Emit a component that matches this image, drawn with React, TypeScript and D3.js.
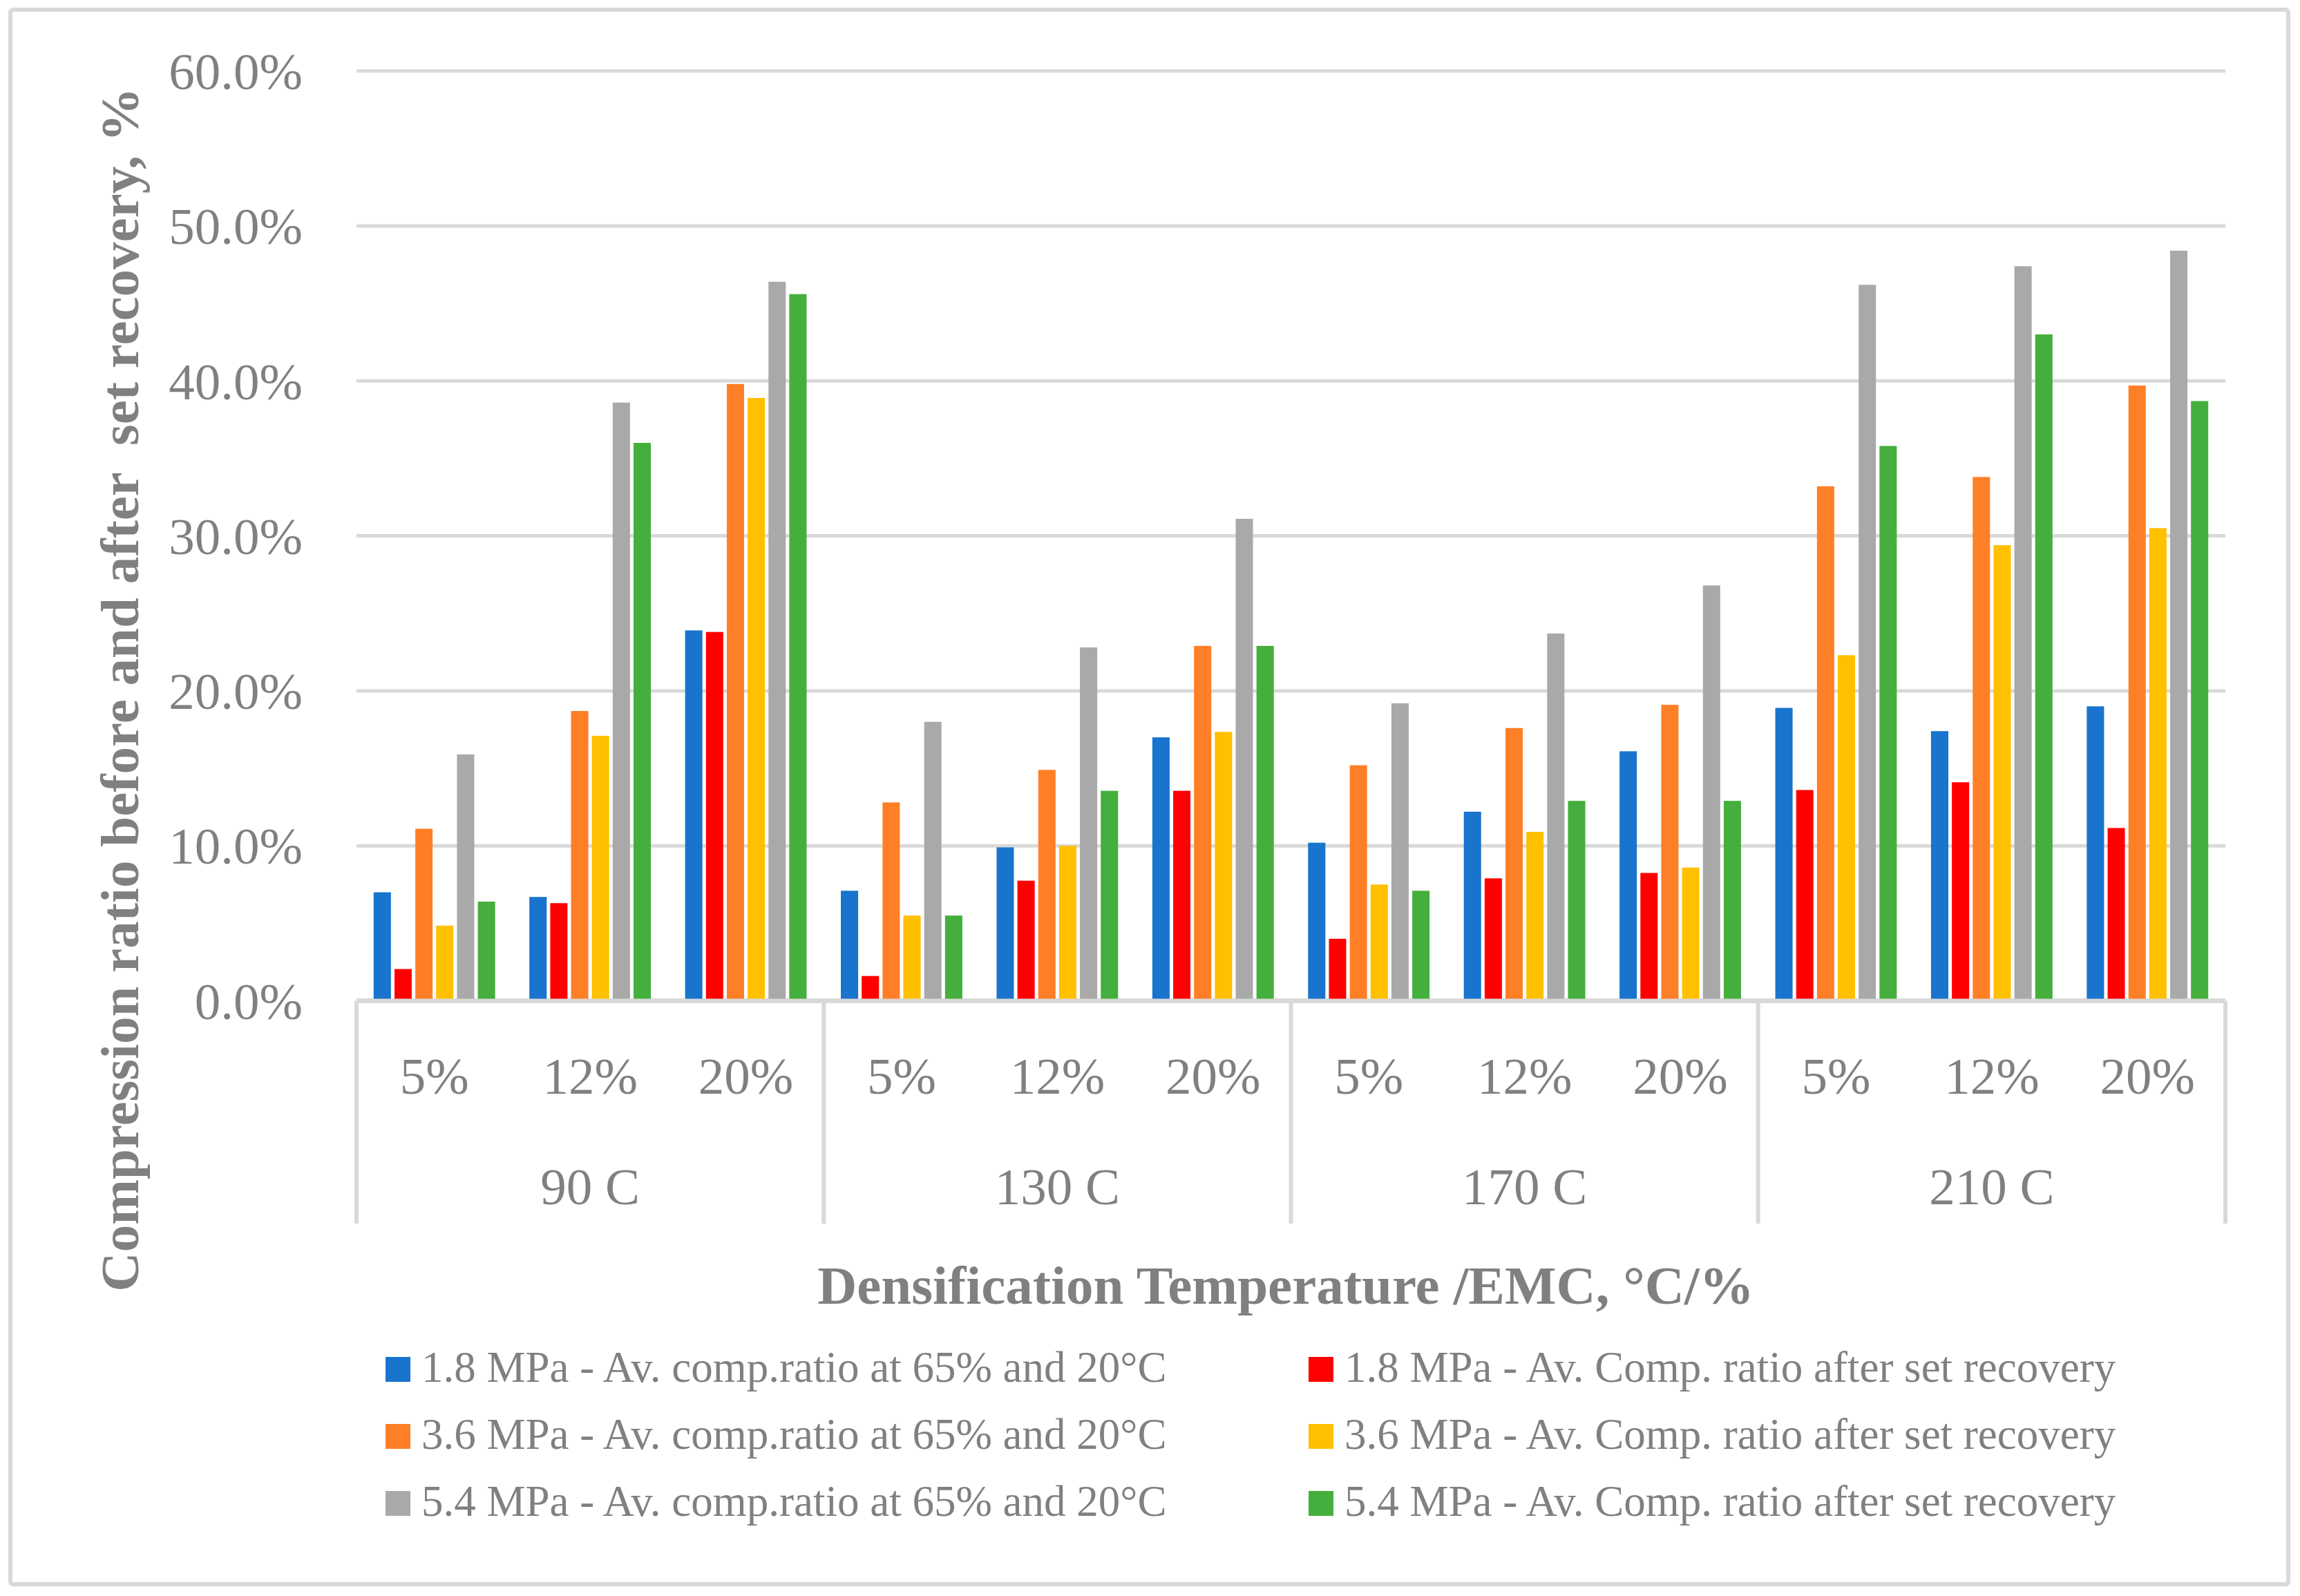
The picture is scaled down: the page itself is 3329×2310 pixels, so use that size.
import React, { useEffect } from 'react';
import * as d3 from 'd3';

// temperatures (outer axis level) and EMC levels (inner axis level)
const temperatures = ['90 C', '130 C', '170 C', '210 C'];
const emcLevels = ['5%', '12%', '20%'];

const seriesNames = [
  '1.8 MPa - Av. comp.ratio at 65% and 20°C',
  '1.8 MPa - Av. Comp. ratio after set recovery',
  '3.6 MPa - Av. comp.ratio at 65% and 20°C',
  '3.6 MPa - Av. Comp. ratio after set recovery',
  '5.4 MPa - Av. comp.ratio at 65% and 20°C',
  '5.4 MPa - Av. Comp. ratio after set recovery',
];
const seriesColors = ['#1874CD', '#FF0000', '#FF7F27', '#FFC000', '#A9A9A9', '#44AF3C'];

// values in %, ordered 90C(5,12,20), 130C(...), 170C(...), 210C(...)
const comp18 = [7.0, 6.7, 23.9, 7.1, 9.9, 17.0, 10.2, 12.2, 16.1, 18.9, 17.4, 19.0];
const after18 = [2.05, 6.3, 23.8, 1.6, 7.75, 13.55, 4.0, 7.9, 8.25, 13.6, 14.1, 11.15];
const comp36 = [11.1, 18.7, 39.8, 12.8, 14.9, 22.9, 15.2, 17.6, 19.1, 33.2, 33.8, 39.7];
const after36 = [4.85, 17.1, 38.9, 5.5, 10.0, 17.35, 7.5, 10.9, 8.6, 22.3, 29.4, 30.5];
const comp54 = [15.9, 38.6, 46.4, 18.0, 22.8, 31.1, 19.2, 23.7, 26.8, 46.2, 47.4, 48.4];
const after54 = [6.4, 36.0, 45.6, 5.5, 13.55, 22.9, 7.1, 12.9, 12.9, 35.8, 43.0, 38.7];

const yTicks = [0, 0.1, 0.2, 0.3, 0.4, 0.5, 0.6];

const W = 3329;
const H = 2310;
const FONT = '"Liberation Serif", "DejaVu Serif", serif';
const TEXT = '#808080';
const GRID = '#D9D9D9';

const App: React.FC = () => {
  useEffect(() => {
    document.body.style.margin = '0';
  }, []);

  const series = [comp18, after18, comp36, after36, comp54, after54];
  const categories = temperatures.flatMap((t) => emcLevels.map((e) => `${t}|${e}`));

  const left = 516;
  const right = 3221;
  const y0 = 1448.5;

  const x = d3.scaleBand<string>().domain(categories).range([left, right]).paddingInner(0.22).paddingOuter(0.11);
  const xs = d3.scaleBand<number>().domain(d3.range(series.length)).range([0, x.bandwidth()]).paddingInner(0.17);
  const y = d3.scaleLinear().domain([0, 0.6]).range([y0, 102.7]);
  const fmt = d3.format('.1%');

  const groupW = (right - left) / temperatures.length;
  const sepBottom = 1771;

  return (
    <svg width={W} height={H} style={{ display: 'block' }} fontFamily={FONT}>
      <rect x={0} y={0} width={W} height={H} fill="#fff" />
      <rect x={15} y={14} width={3297} height={2279} rx={4} fill="#fff" stroke={GRID} strokeWidth={6} />

      {/* gridlines */}
      {yTicks.map((t) => (
        <line key={t} x1={left} x2={right} y1={y(t)} y2={y(t)} stroke={GRID} strokeWidth={t === 0 ? 7 : 5} />
      ))}

      {/* y tick labels */}
      {yTicks.map((t) => (
        <text key={'l' + t} x={438} y={y(t)} dy="0.35em" textAnchor="end" fontSize={75} fill={TEXT}>
          {fmt(t)}
        </text>
      ))}

      {/* bars */}
      {series.map((vals, si) => (
        <g key={si} fill={seriesColors[si]}>
          {vals.map((v, ci) => (
            <rect
              key={ci}
              x={(x(categories[ci]) as number) + (xs(si) as number)}
              y={y(v / 100)}
              width={xs.bandwidth()}
              height={y0 - 3 - y(v / 100)}
            />
          ))}
        </g>
      ))}

      {/* group separators */}
      {d3.range(temperatures.length + 1).map((i) => (
        <line key={'s' + i} x1={left + i * groupW} x2={left + i * groupW} y1={y0} y2={sepBottom} stroke={GRID} strokeWidth={6} />
      ))}

      {/* inner labels */}
      {categories.map((c) => (
        <text key={c} x={(x(c) as number) + x.bandwidth() / 2} y={1583} textAnchor="middle" fontSize={75} fill={TEXT}>
          {c.split('|')[1]}
        </text>
      ))}

      {/* outer labels */}
      {temperatures.map((t, i) => (
        <text key={t} x={left + (i + 0.5) * groupW} y={1743} textAnchor="middle" fontSize={75} fill={TEXT}>
          {t}
        </text>
      ))}

      {/* axis titles */}
      <text x={1861} y={1887} textAnchor="middle" fontSize={79} fontWeight="bold" fill={TEXT}>
        Densification Temperature /EMC, °C/%
      </text>
      <text
        transform="translate(200,998) rotate(-90)"
        textAnchor="middle"
        fontSize={79}
        fontWeight="bold"
        fill={TEXT}
        style={{ whiteSpace: 'pre' }}
      >
        Compression ratio before and after  set recovery, %
      </text>

      {/* legend */}
      {seriesNames.map((name, i) => {
        const col = i % 2;
        const row = Math.floor(i / 2);
        const lx = col === 0 ? 558 : 1894;
        const ly = 1964 + row * 97;
        return (
          <g key={name}>
            <rect x={lx} y={ly} width={36} height={36} fill={seriesColors[i]} />
            <text x={lx + 52} y={ly + 36} fontSize={63} fill={TEXT}>
              {name}
            </text>
          </g>
        );
      })}
    </svg>
  );
};

export default App;
